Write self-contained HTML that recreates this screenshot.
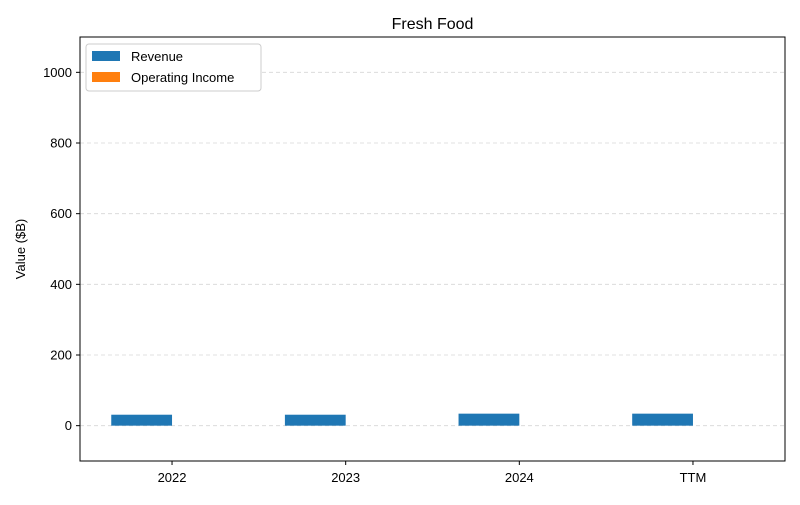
<!DOCTYPE html>
<html><head><meta charset="utf-8"><style>
body{margin:0;background:#fff;font-family:"Liberation Sans","DejaVu Sans",sans-serif;}
</style></head><body>
<svg width="800" height="500" xmlns="http://www.w3.org/2000/svg" id="chart" font-family="Liberation Sans, DejaVu Sans, sans-serif">
<rect width="800" height="500" fill="#fff"/>
<text x="432.5" y="29" text-anchor="middle" font-size="16">Fresh Food</text>
<text transform="translate(25,249) rotate(-90)" text-anchor="middle" font-size="13">Value ($B)</text>
<g id="grid"></g><g id="bars"></g><g id="ticks"></g>
<rect x="80" y="37" width="705" height="424" fill="none" stroke="#000" stroke-width="1"/>
<g>
<rect x="86" y="44" width="175" height="47" fill="#fff" stroke="#ccc" rx="3"/>
<rect x="92" y="51" width="28" height="10" fill="#1f77b4"/>
<text x="131" y="61" font-size="13">Revenue</text>
<rect x="92" y="72" width="28" height="10" fill="#ff7f0e"/>
<text x="131" y="82" font-size="13">Operating Income</text>
</g>
</svg>
<script>
const categories = ["2022","2023","2024","TTM"];
const revenue = [31, 31, 34, 34];
const operatingIncome = [0, 0, 0, 0];
const yTicks = [0, 200, 400, 600, 800, 1000];

const NS="http://www.w3.org/2000/svg";
const L=80,R=785,T=37,B=461, yMin=-100,yMax=1100, xMin=-0.53,xMax=3.53;
const x=v=>L+(v-xMin)/(xMax-xMin)*(R-L);
const y=v=>T+(yMax-v)/(yMax-yMin)*(B-T);
const bw=0.35*(x(1)-x(0));
function mk(tag,attrs,parent){const e=document.createElementNS(NS,tag);for(const k in attrs)e.setAttribute(k,attrs[k]);document.getElementById(parent).appendChild(e);return e;}
yTicks.forEach(t=>{
  const g=mk('line',{x1:L,x2:R,y1:y(t),y2:y(t),stroke:'#ccc','stroke-dasharray':'4,3','stroke-width':0.8,opacity:0.8},'grid');
  
  
  const tk=mk('line',{x1:L-4,x2:L,y1:y(t),y2:y(t),stroke:'#000'},'ticks');
  
  
  const tx=mk('text',{x:L-8,y:y(t)+4.5,'text-anchor':'end','font-size':13},'ticks');
  tx.textContent=t;
  
  
});
categories.forEach((c,i)=>{
  const cx=x(i);
  const r=mk('rect',{x:cx-bw,width:bw,y:Math.min(y(revenue[i]),y(0)),height:Math.abs(y(0)-y(revenue[i])),fill:'#1f77b4'},'bars');
  
  
  const o=mk('rect',{x:cx,width:bw,y:Math.min(y(operatingIncome[i]),y(0)),height:Math.abs(y(0)-y(operatingIncome[i])),fill:'#ff7f0e'},'bars');
  
  
  const tk=mk('line',{x1:cx,x2:cx,y1:B,y2:B+4,stroke:'#000'},'ticks');
  
  
  const tx=mk('text',{x:cx,y:B+21,'text-anchor':'middle','font-size':13},'ticks');
  tx.textContent=c;
  
  
});
</script>
</body></html>
